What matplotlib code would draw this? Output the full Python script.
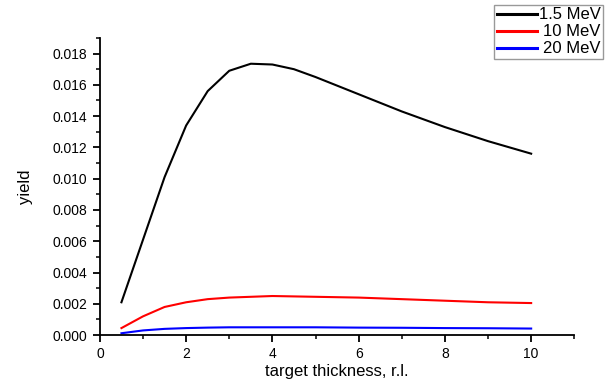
import matplotlib.pyplot as plt
from matplotlib.ticker import MultipleLocator

plt.rcParams['font.family'] = ['Liberation Sans', 'DejaVu Sans']

# target thickness in radiation lengths
t_black = [0.5, 1.0, 1.5, 2.0, 2.5, 3.0, 3.5, 4.0, 4.5, 5.0, 6.0, 7.0, 8.0, 9.0, 10.0]
y_15 = [0.0021, 0.0061, 0.0101, 0.0134, 0.0156, 0.0169, 0.01735, 0.0173, 0.0170,
        0.0165, 0.0154, 0.0143, 0.0133, 0.0124, 0.0116]

t_low = [0.5, 1.0, 1.5, 2.0, 2.5, 3.0, 3.5, 4.0, 5.0, 6.0, 7.0, 8.0, 9.0, 10.0]
y_10 = [0.00045, 0.0012, 0.0018, 0.0021, 0.0023, 0.0024, 0.00245, 0.0025, 0.00245,
        0.0024, 0.0023, 0.0022, 0.0021, 0.00205]
y_20 = [0.00012, 0.0003, 0.0004, 0.00045, 0.00048, 0.0005, 0.0005, 0.0005, 0.0005,
        0.00048, 0.00047, 0.00045, 0.00044, 0.00042]

labels = ['1.5 MeV', '10 MeV', '20 MeV']
colors = ['black', 'red', 'blue']

fig = plt.figure(figsize=(6.09, 3.83), dpi=100)
ax = fig.add_axes([0.164, 0.125, 0.779, 0.776])

ax.plot(t_black, y_15, color=colors[0], lw=1.5, label=labels[0])
ax.plot(t_low, y_10, color=colors[1], lw=1.5, label=labels[1])
ax.plot(t_low, y_20, color=colors[2], lw=1.5, label=labels[2])

ax.set_xlim(0, 11)
ax.set_ylim(0, 0.019)
ax.xaxis.set_major_locator(MultipleLocator(2))
ax.xaxis.set_minor_locator(MultipleLocator(1))
ax.yaxis.set_major_locator(MultipleLocator(0.002))
ax.yaxis.set_minor_locator(MultipleLocator(0.001))
ax.yaxis.set_major_formatter(lambda v, p: f'{v:.3f}')

for side in ['top', 'right']:
    ax.spines[side].set_visible(False)
for side in ['left', 'bottom']:
    ax.spines[side].set_linewidth(1.3)
ax.tick_params(which='major', direction='out', length=5, width=1.3, labelsize=10)
ax.tick_params(axis='y', which='major', pad=4)
ax.tick_params(which='minor', direction='out', length=3, width=1.1)

ax.set_xlabel('target thickness, r.l.', fontsize=12, labelpad=2)
ax.set_ylabel('yield', fontsize=12, labelpad=14)

leg = fig.legend(loc='upper right', bbox_to_anchor=(0.99, 0.987), fontsize=12,
                 fancybox=False, edgecolor='#999999', framealpha=1,
                 handlelength=2.4, handletextpad=0.1, labelspacing=0.12,
                 borderpad=0.15, borderaxespad=0)
leg.get_frame().set_linewidth(1.0)
for ln in leg.get_lines():
    ln.set_linewidth(2.2)

# push the legend texts to the right edge, lines stay at the left
fig.canvas.draw()
renderer = fig.canvas.get_renderer()
items = [it for col in leg._legend_handle_box.get_children() for it in col.get_children()]
w = max(it.get_bbox(renderer).width for it in items)
for it in items:
    it.mode = 'expand'
    it.width = w

fig.savefig('out.png', dpi=100)
